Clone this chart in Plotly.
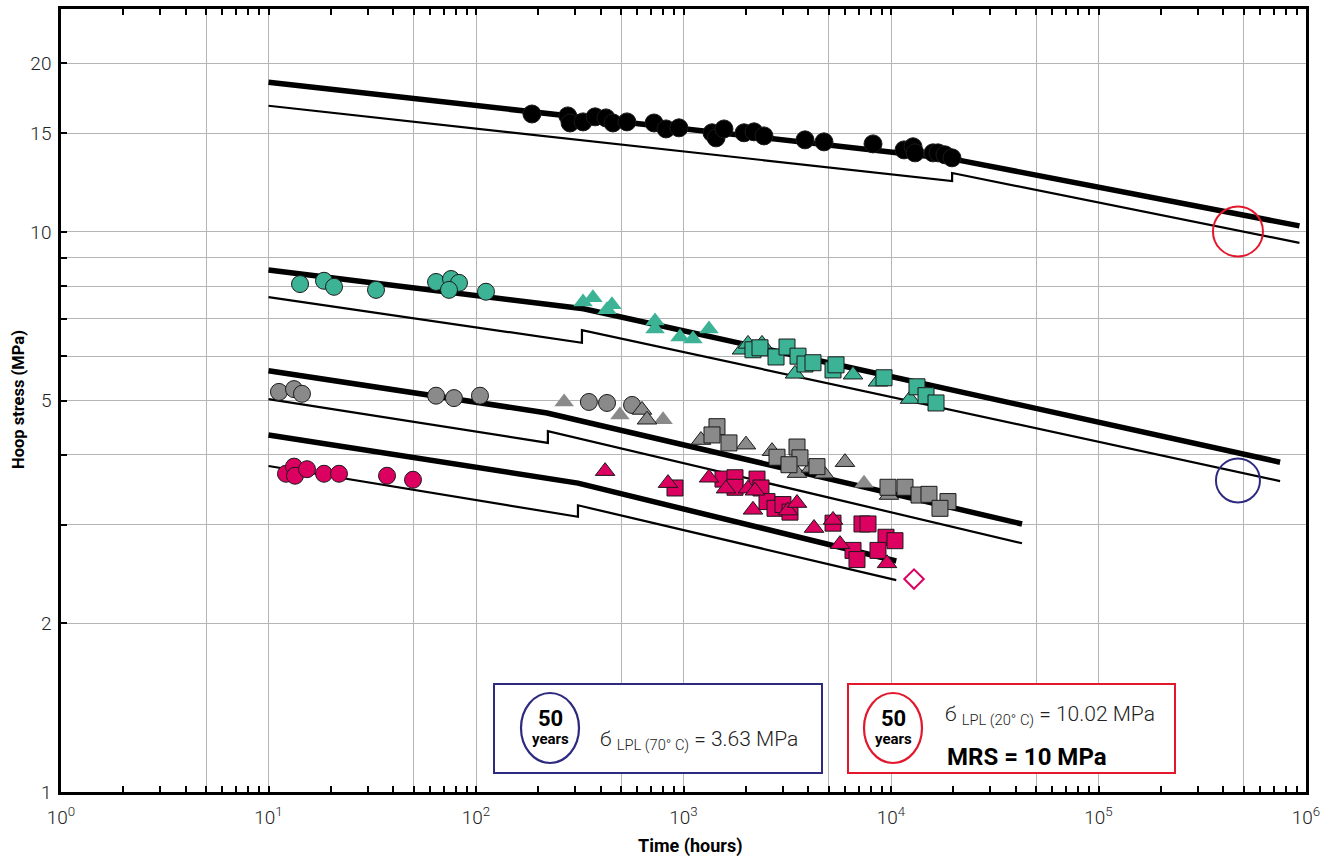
import plotly.graph_objects as go

# ---------------- data ----------------
# 20 °C  (black circles)
black_circ_x = [186, 277, 284, 328, 375, 423, 457, 534, 721, 824, 951, 1372, 1435, 1567, 1957, 2187, 2443,
                3851, 4754, 8190, 11555, 12770, 13057, 15937, 16846, 18200, 19680]
black_circ_y = [16.24, 16.11, 15.65, 15.72, 16.05, 15.98, 15.65, 15.72, 15.65, 15.27, 15.34, 15.03, 14.72, 15.27,
                15.03, 15.09, 14.84, 14.60, 14.48, 14.36, 14.01, 14.19, 13.84, 13.84, 13.84, 13.73, 13.56]

# teal series
teal_circ_x = [14.19, 18.51, 20.69, 32.97, 64.2, 75.8, 82.8, 74.1, 111.7]
teal_circ_y = [8.07, 8.18, 7.98, 7.88, 8.14, 8.24, 8.11, 7.88, 7.82]
teal_tri_light_x = [328, 366, 428, 452, 729, 729, 962, 1111, 1327]
teal_tri_light_y = [7.50, 7.63, 7.26, 7.41, 6.93, 6.71, 6.49, 6.44, 6.71]
teal_tri_x = [1914, 2046, 2389, 3446, 6561, 8654, 12350]
teal_tri_y = [6.16, 6.31, 6.31, 5.58, 5.56, 5.40, 5.03]
teal_sq_x = [2162, 2337, 2792, 3154, 3563, 3851, 4208, 5255, 5433, 9252, 13340, 14750, 16480]
teal_sq_y = [6.16, 6.21, 5.98, 6.23, 6.00, 5.81, 5.84, 5.67, 5.79, 5.49, 5.29, 5.10, 4.95]

# grey series
grey_circ_x = [11.23, 13.27, 14.50, 64.2, 78.3, 104.5, 350, 428, 565]
grey_circ_y = [5.18, 5.24, 5.14, 5.10, 5.05, 5.10, 4.97, 4.95, 4.91]
grey_tri_x = [631, 667, 1214, 2000, 2671, 3524, 4116, 4754, 6000, 9780]
grey_tri_y = [4.81, 4.62, 4.25, 4.17, 4.06, 3.71, 3.79, 3.70, 3.88, 3.39]
grey_tri_light_x = [266, 494, 797, 7413]
grey_tri_light_y = [4.97, 4.71, 4.62, 3.56]
grey_sq_x = [1450, 1372, 1656, 3524, 2822, 3642, 3224, 4398, 9672, 11680, 13650, 15240, 18820, 17220]
grey_sq_y = [4.49, 4.34, 4.20, 4.13, 3.96, 3.95, 3.84, 3.81, 3.50, 3.50, 3.39, 3.40, 3.30, 3.21]

# magenta series
mag_circ_x = [12.14, 13.27, 13.42, 15.33, 18.51, 21.87, 37.26, 49.7]
mag_circ_y = [3.70, 3.81, 3.67, 3.77, 3.70, 3.70, 3.67, 3.61]
mag_tri_x = [419, 842, 1327, 1602, 2046, 2211, 2162, 3188, 3524, 4256, 5255, 5678, 9569]
mag_tri_y = [3.74, 3.56, 3.64, 3.48, 3.48, 3.45, 3.19, 3.18, 3.28, 2.96, 3.06, 2.77, 2.56]
mag_sq_x = [910, 1550, 1771, 1771, 2261, 2363, 2526, 2761, 3016, 3260, 5255, 7247, 7748, 9460, 10450,
            6561, 8654, 6856]
mag_sq_y = [3.49, 3.62, 3.64, 3.50, 3.62, 3.49, 3.30, 3.21, 3.26, 3.16, 3.02, 3.01, 3.01, 2.85, 2.81,
            2.70, 2.70, 2.60]
mag_open_x = [12910]
mag_open_y = [2.40]

# regression (mean) lines and lower prediction limits (LPL)
black_fit_x = [10, 19700, 930000]
black_fit_y = [18.5, 13.5, 10.25]
black_lpl_x = [10, 19700, 19700, 930000]
black_lpl_y = [16.8, 12.33, 12.74, 9.56]

teal_fit_x = [10, 330, 750000]
teal_fit_y = [8.55, 7.29, 3.88]
teal_lpl_x = [10, 324, 324, 750000]
teal_lpl_y = [7.65, 6.34, 6.68, 3.59]

grey_fit_x = [10, 220, 42800]
grey_fit_y = [5.65, 4.75, 3.01]
grey_lpl_x = [10, 222, 222, 42800]
grey_lpl_y = [5.03, 4.20, 4.41, 2.78]

mag_fit_x = [10, 310, 10600]
mag_fit_y = [4.34, 3.56, 2.585]
mag_lpl_x = [10, 310, 310, 10600]
mag_lpl_y = [3.82, 3.10, 3.25, 2.39]

# 50-year points
fifty_years_x = [470000]
lpl_20_y = [10.02]
lpl_70_y = [3.60]

# axis ticks
x_major_vals = [1, 5, 10, 50, 100, 500, 1000, 5000, 10000, 50000, 100000, 500000, 1000000]
x_major_text = ["10<sup>0</sup>", "", "10<sup>1</sup>", "", "10<sup>2</sup>", "", "10<sup>3</sup>", "",
                "10<sup>4</sup>", "", "10<sup>5</sup>", "", "10<sup>6</sup>"]
x_minor_vals = [m * 10 ** d for d in range(6) for m in (2, 3, 4, 6, 7, 8, 9)]
y_vals = [1, 2, 3, 4, 5, 6, 7, 8, 9, 10, 15, 20]
y_text = ["1", "2", "", "", "5", "", "", "", "", "10", "15", "20"]

# ---------------- style ----------------
TEAL = "#3db396"
GREY = "#8a8a8a"
MAG = "#dc0060"
BLACK = "#000000"
OUT = "#1a1a1a"
FONT = "Roboto, Arial, sans-serif"

fig = go.Figure()


def line(x, y, w):
    fig.add_trace(go.Scatter(x=x, y=y, mode="lines", line=dict(color="black", width=w),
                             showlegend=False, hoverinfo="skip"))


for fx, fy, lx, ly in [(black_fit_x, black_fit_y, black_lpl_x, black_lpl_y),
                       (teal_fit_x, teal_fit_y, teal_lpl_x, teal_lpl_y),
                       (grey_fit_x, grey_fit_y, grey_lpl_x, grey_lpl_y),
                       (mag_fit_x, mag_fit_y, mag_lpl_x, mag_lpl_y)]:
    line(fx, fy, 5.5)
    line(lx, ly, 2.2)


def pts(x, y, sym, color, size, lw=1, lc=OUT):
    fig.add_trace(go.Scatter(x=x, y=y, mode="markers",
                             marker=dict(symbol=sym, color=color, size=size,
                                         line=dict(color=lc, width=lw)),
                             showlegend=False))


pts(black_circ_x, black_circ_y, "circle", BLACK, 18)
pts(teal_circ_x, teal_circ_y, "circle", TEAL, 17)
pts(teal_tri_light_x, teal_tri_light_y, "triangle-up", TEAL, 17, 0)
pts(teal_tri_x, teal_tri_y, "triangle-up", TEAL, 17)
pts(teal_sq_x, teal_sq_y, "square", TEAL, 16)
pts(grey_circ_x, grey_circ_y, "circle", GREY, 17)
pts(grey_tri_light_x, grey_tri_light_y, "triangle-up", GREY, 17, 0)
pts(grey_tri_x, grey_tri_y, "triangle-up", GREY, 17)
pts(grey_sq_x, grey_sq_y, "square", GREY, 16)
pts(mag_circ_x, mag_circ_y, "circle", MAG, 17)
pts(mag_sq_x, mag_sq_y, "square", MAG, 16)
pts(mag_tri_x, mag_tri_y, "triangle-up", MAG, 17)
pts(mag_open_x, mag_open_y, "diamond-open", MAG, 15, 2, MAG)
pts(fifty_years_x, lpl_20_y, "circle-open", "#e3182d", 50, 2, "#e3182d")
pts(fifty_years_x, lpl_70_y, "circle-open", "#2e2a80", 44, 2, "#2e2a80")

# ---------------- annotation boxes ----------------
shapes = []
annotations = []


def px_x(p):
    return (p - 61) / 1245


def px_y(p):
    return (792 - p) / 783


for (x0, x1, col) in [(494, 822, "#2e2a80"), (848, 1175, "#e3182d")]:
    shapes.append(dict(type="rect", xref="paper", yref="paper", x0=px_x(x0), x1=px_x(x1),
                       y0=px_y(773), y1=px_y(684), line=dict(color=col, width=2),
                       fillcolor="white", layer="above"))

for (cx, col) in [(550, "#2e2a80"), (893, "#e3182d")]:
    shapes.append(dict(type="circle", xref="paper", yref="paper", x0=px_x(cx - 29), x1=px_x(cx + 29),
                       y0=px_y(763), y1=px_y(693), line=dict(color=col, width=2.2), layer="above"))
    annotations.append(dict(xref="paper", yref="paper", x=px_x(cx), y=px_y(718), text="<b>50</b>",
                            xanchor="center", yanchor="middle",
                            showarrow=False, font=dict(family=FONT, size=22, color="black")))
    annotations.append(dict(xref="paper", yref="paper", x=px_x(cx), y=px_y(739), text="<b>years</b>",
                            xanchor="center", yanchor="middle",
                            showarrow=False, font=dict(family=FONT, size=15, color="black")))

annotations.append(dict(xref="paper", yref="paper", x=px_x(598), y=px_y(740), xanchor="left",
                        yanchor="middle",
                        text="б <sub>LPL (70° C)</sub> = 3.63 MPa", showarrow=False,
                        font=dict(family=FONT, size=21, color="#222", weight=300)))
annotations.append(dict(xref="paper", yref="paper", x=px_x(943), y=px_y(715), xanchor="left",
                        yanchor="middle",
                        text="б <sub>LPL (20° C)</sub> = 10.02 MPa", showarrow=False,
                        font=dict(family=FONT, size=21, color="#222", weight=300)))
annotations.append(dict(xref="paper", yref="paper", x=px_x(945), y=px_y(757), xanchor="left",
                        yanchor="middle",
                        text="<b>MRS = 10 MPa</b>", showarrow=False,
                        font=dict(family=FONT, size=24, color="black")))
# axis titles
annotations.append(dict(xref="paper", yref="paper", x=px_x(690), y=px_y(846), xanchor="center",
                        yanchor="middle", text="<b>Time (hours)</b>", showarrow=False,
                        font=dict(family=FONT, size=18, color="black")))
annotations.append(dict(xref="paper", yref="paper", x=px_x(18), y=px_y(400), xanchor="center",
                        yanchor="middle", text="<b>Hoop stress (MPa)</b>", showarrow=False,
                        textangle=-90, font=dict(family=FONT, size=16.5, color="black")))

fig.update_layout(
    width=1339, height=858,
    margin=dict(l=61, r=33, t=9, b=66, autoexpand=False),
    plot_bgcolor="white", paper_bgcolor="white",
    shapes=shapes, annotations=annotations,
    font=dict(family=FONT, color="#222"),
    xaxis=dict(type="log", range=[0, 6], tickmode="array", tickvals=x_major_vals, ticktext=x_major_text,
               showgrid=True, gridcolor="#b5b5b5", gridwidth=1, automargin=False,
               ticks="inside", ticklen=6, tickwidth=2, tickcolor="black",
               showline=True, linecolor="black", linewidth=2.5, mirror="ticks",
               minor=dict(tickvals=x_minor_vals, ticks="inside", ticklen=6, tickwidth=2,
                          tickcolor="black", showgrid=False),
               tickfont=dict(size=19, color="#222", weight=300), ticklabelstandoff=6,
               zeroline=False),
    yaxis=dict(type="log", range=[0, 1.398], tickmode="array", tickvals=y_vals, ticktext=y_text,
               showgrid=True, gridcolor="#b5b5b5", gridwidth=1, automargin=False,
               ticks="inside", ticklen=6, tickwidth=2, tickcolor="black",
               showline=True, linecolor="black", linewidth=2.5, mirror=True,
               tickfont=dict(size=19, color="#222", weight=300), ticklabelstandoff=3,
               zeroline=False),
)

fig.write_html("out.html", post_script="document.body.style.margin='0px';",
               config={"displayModeBar": False})
